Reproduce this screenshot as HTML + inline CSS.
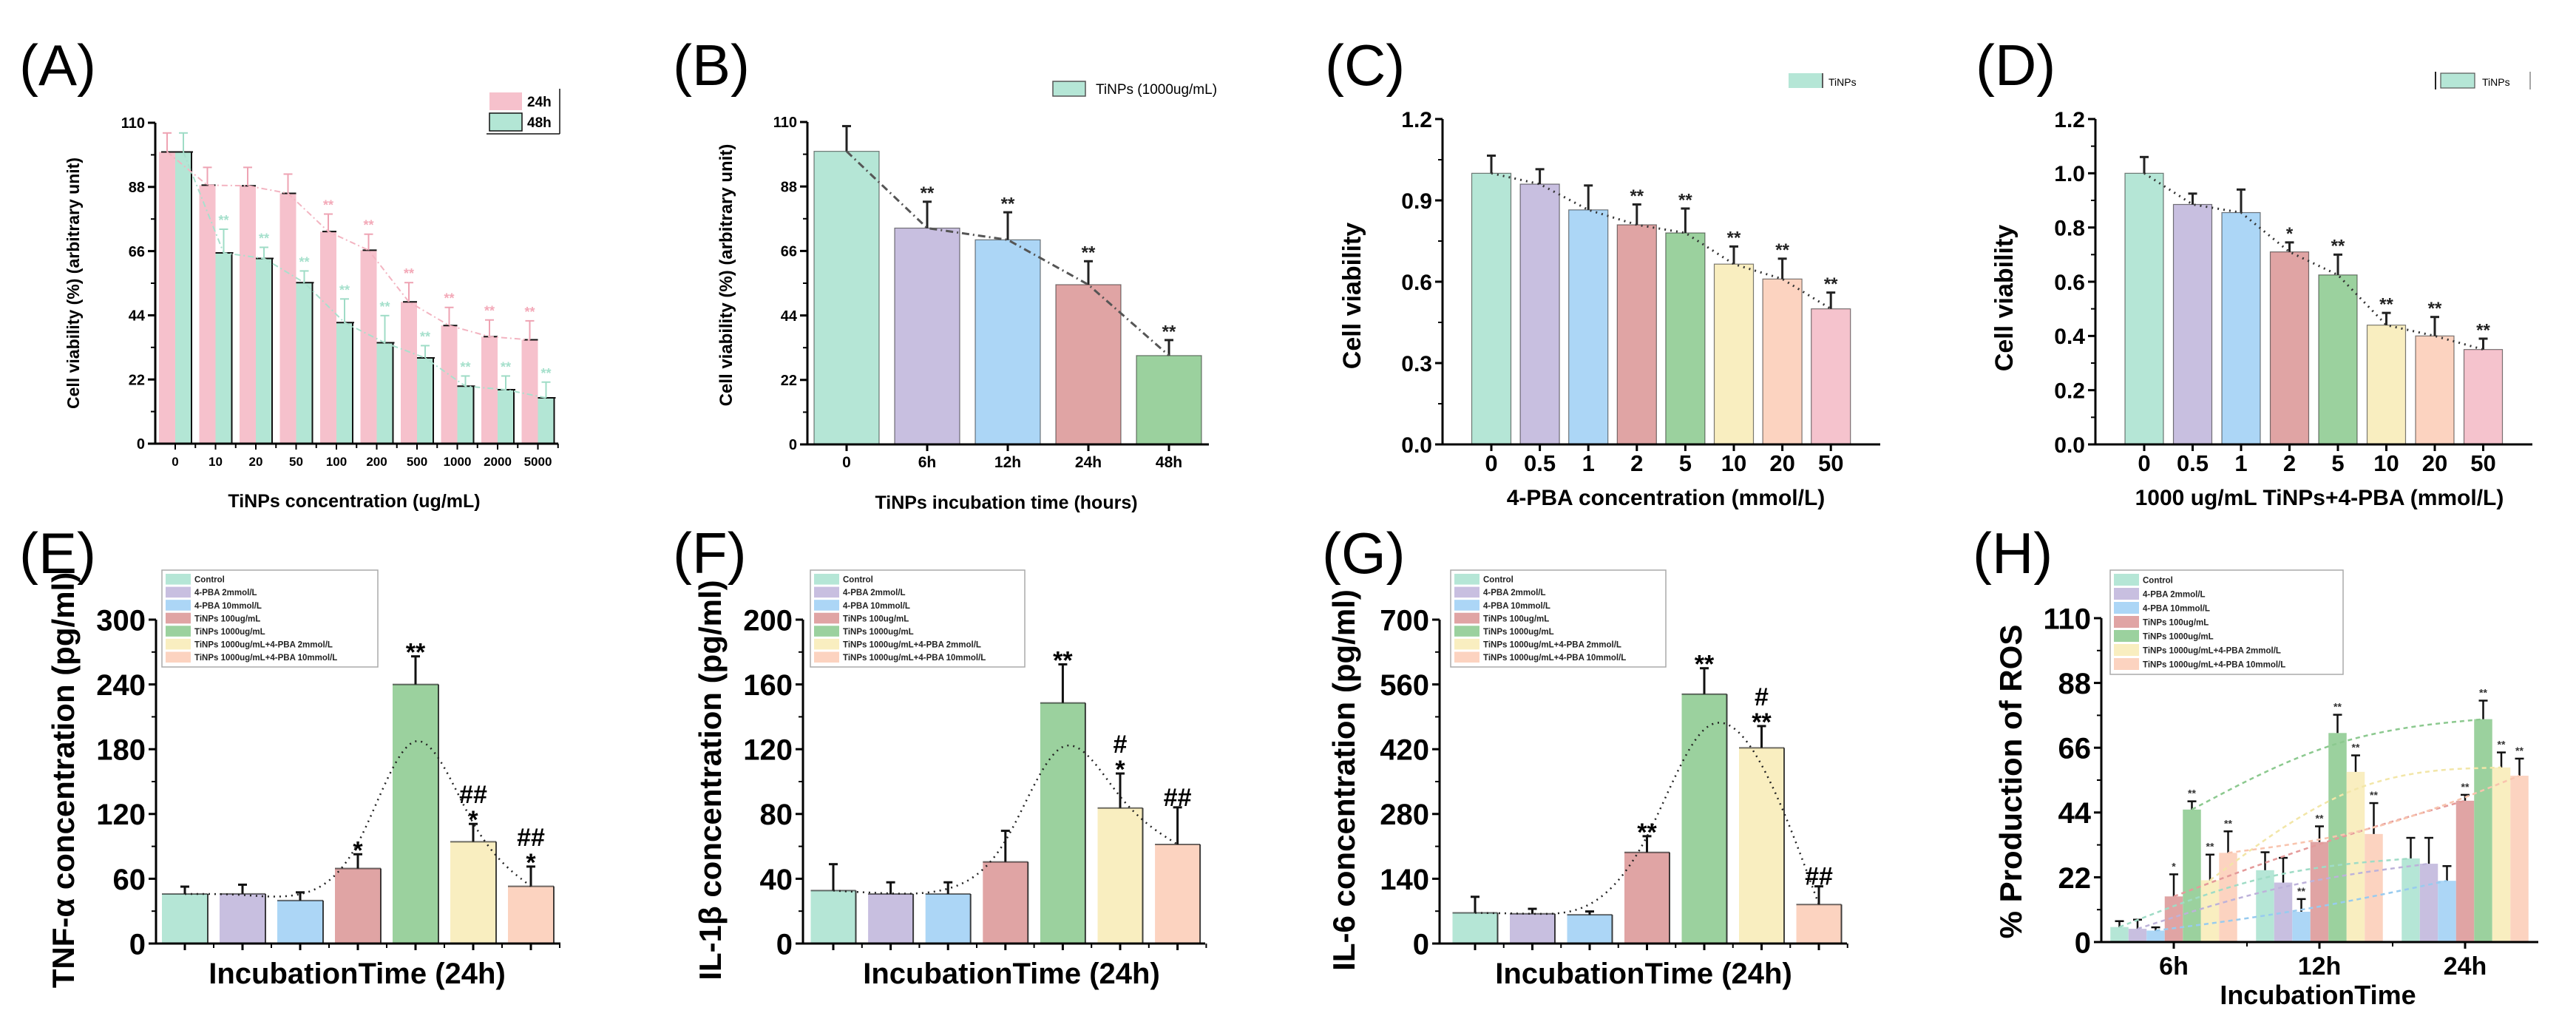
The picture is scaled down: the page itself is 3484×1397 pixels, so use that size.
<!DOCTYPE html>
<html><head><meta charset="utf-8"><style>
html,body{margin:0;padding:0;background:#fff;}
svg{display:block;font-family:"Liberation Sans",Arial,sans-serif;}
</style></head><body>
<svg id="fig" xmlns="http://www.w3.org/2000/svg" width="3484" height="1397" viewBox="0 0 3484 1397">
<rect width="3484" height="1397" fill="#fff"/>
</svg>
<script>
// ---------- DATA ----------
// Panel A
const aCategories = ['0','10','20','50','100','200','500','1000','2000','5000'];
const a24Values = [100,88.6,88.4,85.8,72.7,66.3,48.6,40.5,36.7,35.6];
const a24Errors = [106.5,94.7,94.7,92.4,78.7,71.8,55.2,46.7,42.4,42.1];
const a48Values = [100,65.4,63.5,55.2,41.5,34.6,29.4,19.7,18.5,15.7];
const a48Errors = [106.5,73.5,67.3,59.2,49.6,43.9,33.6,23.2,23.2,21.1];
const a24Stars = ['','','','','**','**','**','**','**','**'];
const a48Stars = ['','**','**','**','**','**','**','**','**','**'];
const aTicks = [0,22,44,66,88,110];
// Panel B
const bCategories = ['0','6h','12h','24h','48h'];
const bValues = [100,73.8,69.8,54.5,30.3];
const bErrors = [108.6,82.8,79.2,62.5,35.6];
const bStars = ['','**','**','**','**'];
const bTicks = [0,22,44,66,88,110];
// Panel C
const cCategories = ['0','0.5','1','2','5','10','20','50'];
const cValues = [1.0,0.96,0.865,0.81,0.78,0.665,0.61,0.50];
const cErrors = [1.065,1.015,0.955,0.885,0.87,0.73,0.685,0.56];
const cStars = ['','','','**','**','**','**','**'];
const cTicks = [0,0.3,0.6,0.9,1.2];
// Panel D
const dCategories = ['0','0.5','1','2','5','10','20','50'];
const dValues = [1.0,0.885,0.855,0.71,0.625,0.44,0.40,0.35];
const dErrors = [1.06,0.925,0.94,0.745,0.70,0.485,0.47,0.39];
const dStars = ['','','','*','**','**','**','**'];
const dTicks = [0,0.2,0.4,0.6,0.8,1.0,1.2];
// Groups (E, F, G, H)
const groupNames = ['Control','4-PBA 2mmol/L','4-PBA 10mmol/L','TiNPs 100ug/mL','TiNPs 1000ug/mL','TiNPs 1000ug/mL+4-PBA 2mmol/L','TiNPs 1000ug/mL+4-PBA 10mmol/L'];
// Panel E
const eValues = [45.9,46,39.8,69.5,240,94.3,53];
const eErrors = [52.7,54.5,47.4,82.7,266,110.8,71.3];
const eStars = ['','','','*','**','*','*'];
const eHashes = ['','','','','','##','##'];
const eTicks = [0,60,120,180,240,300];
// Panel F
const fValues = [32.7,30.6,30.6,50.4,148.6,83.7,61.2];
const fErrors = [49,37.8,37.8,69.6,172.4,105,84.1];
const fStars = ['','','','','**','*',''];
const fHashes = ['','','','','','#','##'];
const fTicks = [0,40,80,120,160,200];
// Panel G
const gValues = [66.4,64.3,62.1,197,539,423,84.3];
const gErrors = [101,75,69.3,232,595,470,123.6];
const gStars = ['','','','**','**','**',''];
const gHashes = ['','','','','','#','##'];
const gTicks = [0,140,280,420,560,700];
// Panel H
const hTimes = ['6h','12h','24h'];
const hControl = [5.1,24.4,28.4];
const hPBA2 = [4.5,20.2,26.6];
const hPBA10 = [3.9,10.3,20.8];
const hTi100 = [15.5,34,48];
const hTi1000 = [45,71,75.7];
const hTiPBA2 = [21,57.8,59.3];
const hTiPBA10 = [30.3,36.7,56.5];
const hControlErr = [7.1,30.5,35.4];
const hPBA2Err = [7.6,28.6,35.4];
const hPBA10Err = [5,14.6,25.8];
const hTi100Err = [23,39.3,50];
const hTi1000Err = [47.8,77.2,82];
const hTiPBA2Err = [29.7,63.4,64.4];
const hTiPBA10Err = [37.6,47.2,62.3];
const hTicks = [0,22,44,66,88,110];

// ---------- STYLE ----------
const COLORS = ['#b5e6d6','#c8bfe0','#acd6f6','#e0a4a4','#9bd19e','#f9eec0','#fcd3c0','#f5c3cd'];
const PINK = '#f6c1cc', MINT = '#b3e6d5';
const NS = 'http://www.w3.org/2000/svg';
const svg = document.getElementById('fig');

function el(tag, attrs, parent){
  const e = document.createElementNS(NS, tag);
  for (const k in attrs) e.setAttribute(k, attrs[k]);
  (parent || svg).appendChild(e);
  return e;
}
function txt(str, attrs, parent){
  const t = el('text', attrs, parent);
  t.textContent = str;
  return t;
}
function yScale(ax){ return v => ax.y0 - (v - ax.min) / (ax.max - ax.min) * (ax.y0 - ax.y1); }

function basisPath(pts){
  let d = '', x0, y0, x1, y1, c = 0;
  function bez(x, y){
    d += 'C' + ((2*x0+x1)/3) + ',' + ((2*y0+y1)/3) + ' ' + ((x0+2*x1)/3) + ',' + ((y0+2*y1)/3) + ' ' + ((x0+4*x1+x)/6) + ',' + ((y0+4*y1+y)/6);
  }
  pts.forEach(p => {
    const x = p[0], y = p[1];
    if (c === 0){ d += 'M' + x + ',' + y; c = 1; }
    else if (c === 1){ c = 2; }
    else { if (c === 2){ c = 3; d += 'L' + ((5*x0+x1)/6) + ',' + ((5*y0+y1)/6); } bez(x, y); }
    x0 = x1; x1 = x; y0 = y1; y1 = y;
  });
  if (c === 3){ bez(x1, y1); d += 'L' + x1 + ',' + y1; }
  else if (c === 2){ d += 'L' + x1 + ',' + y1; }
  return d;
}

function drawAxes(ax, g, ticks, fmt, fs){
  const y = yScale(ax);
  const axis = el('g', {}, g);
  
  
  el('line', {x1:ax.x0, y1:ax.y0, x2:ax.x0, y2:ax.y1, stroke:'#000', 'stroke-width':3}, axis);
  for (let i = 0; i < ticks.length; i++){
    const ty = y(ticks[i]);
    el('line', {x1:ax.x0-10, y1:ty, x2:ax.x0, y2:ty, stroke:'#000', 'stroke-width':3}, axis);
    const lab = txt(fmt(ticks[i]), {x:ax.x0-14, y:ty + fs*0.36, 'font-size':fs, 'font-weight':'bold', 'text-anchor':'end'}, axis);
    
    
    if (i < ticks.length - 1){
      const my = y((ticks[i] + ticks[i+1]) / 2);
      el('line', {x1:ax.x0-6, y1:my, x2:ax.x0, y2:my, stroke:'#000', 'stroke-width':2}, axis);
    }
  }
  const xa = el('line', {x1:ax.x0, y1:ax.y0, x2:ax.xr, y2:ax.y0, stroke:'#000', 'stroke-width':3}, g);
  
  
}

function panelLabel(s, x, y){
  const t = txt(s, {x:x, y:y, 'font-size':78, 'font-family':'"Liberation Sans",Arial,sans-serif'});
  
  
}
function yTitle(s, x, cy, fs, g){
  const t = txt(s, {x:0, y:0, 'font-size':fs, 'font-weight':'bold', 'text-anchor':'middle', transform:'translate(' + x + ',' + cy + ') rotate(-90)'}, g);
  
  
}
function xTitle(s, cx, y, fs, g){
  const t = txt(s, {x:cx, y:y, 'font-size':fs, 'font-weight':'bold', 'text-anchor':'middle'}, g);
  
  
}
function errBar(g, x, yv, ye, color, w){
  const eb = el('g', {}, g);
  
  
  el('line', {x1:x, y1:yv, x2:x, y2:ye, stroke:color, 'stroke-width':w || 3}, eb);
  el('line', {x1:x-6, y1:ye, x2:x+6, y2:ye, stroke:color, 'stroke-width':w || 3}, eb);
}

// ---------- Single-series bar panel (B, C, D) ----------
function simplePanel(cfg, cats, vals, errs, stars, ticks){
  const g = el('g', {});
  
  
  const ax = cfg.ax, y = yScale(ax);
  const pts = [];
  for (let i = 0; i < vals.length; i++){
    const cx = cfg.cx0 + i * cfg.step;
    const b = el('rect', {x:cx - cfg.bw/2, y:y(vals[i]), width:cfg.bw, height:ax.y0 - y(vals[i]), fill:cfg.colors[i % cfg.colors.length], stroke:'#111', 'stroke-width':1.2, 'stroke-opacity':0.55}, g);
    
    
    errBar(g, cx, y(vals[i]), y(errs[i]), '#222', 3);
    pts.push([cx, y(vals[i])]);
    if (stars[i]){
      const s = txt(stars[i], {x:cx, y:y(errs[i]) - 12 + cfg.sfs*0.35, 'font-size':cfg.sfs, 'font-weight':'bold', 'text-anchor':'middle', fill:'#222'}, g);
      
      
    }
    el('line', {x1:cx, y1:ax.y0, x2:cx, y2:ax.y0+9, stroke:'#000', 'stroke-width':3}, g);
    const t = txt(cats[i], {x:cx, y:cfg.labY, 'font-size':cfg.lfs, 'font-weight':'bold', 'text-anchor':'middle'}, g);
    
    
  }
  const tl = el('polyline', {points:pts.map(p => p.join(',')).join(' '), fill:'none', stroke:cfg.lineColor, 'stroke-width':3, 'stroke-dasharray':cfg.dash}, g);
  
  
  drawAxes(ax, g, ticks, cfg.fmt, cfg.tfs);
  return g;
}

// ---------- Panel A ----------
(function(){
  const g = el('g', {});
  
  
  const ax = {x0:210, xr:755, y0:600, y1:166, min:0, max:110};
  const y = yScale(ax);
  const cx0 = 237, step = 54.5, bw = 22;
  const p24 = [], p48 = [];
  for (let i = 0; i < aCategories.length; i++){
    const cx = cx0 + i * step;
    const b1 = el('rect', {x:cx - bw, y:y(a24Values[i]), width:bw, height:ax.y0 - y(a24Values[i]), fill:PINK}, g);
    
    
    const b2 = el('rect', {x:cx, y:y(a48Values[i]), width:bw, height:ax.y0 - y(a48Values[i]), fill:MINT}, g);
    
    
    el('line', {x1:cx+bw, y1:y(a48Values[i]), x2:cx+bw, y2:ax.y0, stroke:'#111', 'stroke-width':2}, g);
    el('line', {x1:cx-bw/2-8, y1:y(a24Values[i]), x2:cx, y2:y(a24Values[i]), stroke:'#111', 'stroke-width':2}, g);
    el('line', {x1:cx, y1:y(a48Values[i]), x2:cx+bw+2, y2:y(a48Values[i]), stroke:'#111', 'stroke-width':2}, g);
    errBar(g, cx - bw/2, y(a24Values[i]), y(a24Errors[i]), '#eea3b3', 2);
    errBar(g, cx + bw/2, y(a48Values[i]), y(a48Errors[i]), '#9fdcc6', 2);
    p24.push([cx - bw/2, y(a24Values[i])]);
    p48.push([cx + bw/2, y(a48Values[i])]);
    if (a24Stars[i]){
      const s = txt(a24Stars[i], {x:cx - bw/2, y:y(a24Errors[i]) - 6, 'font-size':18, 'font-weight':'bold', 'text-anchor':'middle', fill:'#f3a9b8'}, g);
      
      
    }
    if (a48Stars[i]){
      const s = txt(a48Stars[i], {x:cx + bw/2, y:y(a48Errors[i]) - 6, 'font-size':18, 'font-weight':'bold', 'text-anchor':'middle', fill:'#a6e0cc'}, g);
      
      
    }
    el('line', {x1:cx, y1:ax.y0, x2:cx, y2:ax.y0+8, stroke:'#000', 'stroke-width':2}, g);
    el('line', {x1:cx+step/2, y1:ax.y0, x2:cx+step/2, y2:ax.y0+6, stroke:'#000', 'stroke-width':2}, g);
    const t = txt(aCategories[i], {x:cx, y:630, 'font-size':17, 'font-weight':'bold', 'text-anchor':'middle'}, g);
    
    
  }
  const l1 = el('polyline', {points:p24.map(p => p.join(',')).join(' '), fill:'none', stroke:'#f3b4c1', 'stroke-width':2, 'stroke-dasharray':'8 4 2 4'}, g);
  
  
  const l2 = el('polyline', {points:p48.map(p => p.join(',')).join(' '), fill:'none', stroke:'#a9e0cd', 'stroke-width':2, 'stroke-dasharray':'8 4 2 4'}, g);
  
  
  drawAxes(ax, g, aTicks, v => String(v), 20);
  yTitle('Cell viability (%) (arbitrary unit)', 107, 383, 23, g);
  xTitle('TiNPs concentration (ug/mL)', 479, 686, 25, g);
  const lg = el('g', {}, g);
  
  
  el('rect', {x:662, y:125, width:44, height:24, fill:PINK}, lg);
  el('rect', {x:662, y:153, width:44, height:24, fill:MINT, stroke:'#111', 'stroke-width':1.5}, lg);
  el('line', {x1:658, y1:181, x2:757, y2:181, stroke:'#111', 'stroke-width':1.5}, lg);
  el('line', {x1:757, y1:120, x2:757, y2:181, stroke:'#111', 'stroke-width':1.5}, lg);
  txt('24h', {x:713, y:144, 'font-size':19, 'font-weight':'bold'}, lg);
  txt('48h', {x:713, y:172, 'font-size':19, 'font-weight':'bold'}, lg);
  panelLabel('(A)', 26, 115);
})();

// ---------- Panel B ----------
(function(){
  const g = simplePanel({name:'panel-b', ax:{x0:1092, xr:1635, y0:601, y1:165, min:0, max:110}, cx0:1145, step:109, bw:88,
    colors:[COLORS[0],COLORS[1],COLORS[2],COLORS[3],COLORS[4]], lineColor:'#555', dash:'10 5 2 5', sfs:24, lfs:21, labY:632, tfs:20, fmt:v => String(v)},
    bCategories, bValues, bErrors, bStars, bTicks);
  yTitle('Cell viability (%) (arbitrary unit)', 990, 372, 24, g);
  xTitle('TiNPs incubation time (hours)', 1361, 688, 25, g);
  const lg = el('g', {}, g);
  
  
  el('rect', {x:1424, y:110, width:44, height:20, fill:COLORS[0], stroke:'#555', 'stroke-width':1.5}, lg);
  txt('TiNPs (1000ug/mL)', {x:1482, y:127, 'font-size':19}, lg);
  panelLabel('(B)', 910, 115);
})();

// ---------- Panel C ----------
(function(){
  const g = simplePanel({name:'panel-c', ax:{x0:1951, xr:2543, y0:601, y1:161, min:0, max:1.2}, cx0:2017, step:65.6, bw:53,
    colors:COLORS, lineColor:'#333', dash:'2 6', sfs:24, lfs:31, labY:637, tfs:30, fmt:v => v.toFixed(1)},
    cCategories, cValues, cErrors, cStars, cTicks);
  yTitle('Cell viability', 1840, 400, 34, g);
  xTitle('4-PBA concentration (mmol/L)', 2253, 683, 30, g);
  const lg = el('g', {}, g);
  
  
  el('rect', {x:2419, y:99, width:45, height:20, fill:COLORS[0]}, lg);
  el('line', {x1:2465, y1:99, x2:2465, y2:119, stroke:'#222', 'stroke-width':1.5}, lg);
  txt('TiNPs', {x:2473, y:116, 'font-size':14}, lg);
  panelLabel('(C)', 1792, 115);
})();

// ---------- Panel D ----------
(function(){
  const g = simplePanel({name:'panel-d', ax:{x0:2834, xr:3425, y0:601, y1:161, min:0, max:1.2}, cx0:2900, step:65.5, bw:52,
    colors:COLORS, lineColor:'#333', dash:'2 6', sfs:24, lfs:31, labY:637, tfs:30, fmt:v => v.toFixed(1)},
    dCategories, dValues, dErrors, dStars, dTicks);
  yTitle('Cell viability', 2722, 403, 34, g);
  xTitle('1000 ug/mL TiNPs+4-PBA (mmol/L)', 3137, 683, 30, g);
  const lg = el('g', {}, g);
  
  
  el('line', {x1:3294, y1:97, x2:3294, y2:121, stroke:'#222', 'stroke-width':2}, lg);
  el('rect', {x:3301, y:99, width:46, height:20, fill:COLORS[0], stroke:'#555', 'stroke-width':1.2}, lg);
  txt('TiNPs', {x:3357, y:116, 'font-size':14}, lg);
  el('line', {x1:3422, y1:97, x2:3422, y2:121, stroke:'#888', 'stroke-width':1.5}, lg);
  panelLabel('(D)', 2672, 115);
})();

// ---------- Panels E, F, G ----------
function groupLegend(g, x, y, w, h){
  const lg = el('g', {}, g);
  
  
  el('rect', {x:x, y:y, width:w, height:h, fill:'#fff', stroke:'#aaa', 'stroke-width':1.5}, lg);
  const rowH = (h - 8) / groupNames.length;
  for (let i = 0; i < groupNames.length; i++){
    const ry = y + 4 + i * rowH;
    el('rect', {x:x+5, y:ry+1, width:34, height:rowH-3, fill:COLORS[i]}, lg);
    const t = txt(groupNames[i], {x:x+44, y:ry + rowH*0.72, 'font-size':11.5, 'font-weight':'bold', fill:'#222'}, lg);
    
    
  }
}
function groupPanel(cfg, vals, errs, stars, hashes, ticks){
  const g = el('g', {});
  
  
  const ax = cfg.ax, y = yScale(ax);
  const pts = [];
  for (let i = 0; i < vals.length; i++){
    const cx = cfg.cx0 + i * cfg.step;
    const b = el('rect', {x:cx - cfg.bw/2, y:y(vals[i]), width:cfg.bw, height:ax.y0 - y(vals[i]), fill:COLORS[i]}, g);
    
    
    el('line', {x1:cx + cfg.bw/2, y1:y(vals[i]), x2:cx + cfg.bw/2, y2:ax.y0, stroke:'#111', 'stroke-width':2, 'stroke-opacity':0.8}, g);
    el('line', {x1:cx - cfg.bw/2, y1:y(vals[i]), x2:cx + cfg.bw/2, y2:y(vals[i]), stroke:'#111', 'stroke-width':2, 'stroke-opacity':0.6}, g);
    errBar(g, cx, y(vals[i]), y(errs[i]), '#111', 3);
    pts.push([cx, y(vals[i])]);
    let top = y(errs[i]) - 8;
    if (stars[i]){
      const s = txt(stars[i], {x:cx, y:top + 14, 'font-size':34, 'font-weight':'bold', 'text-anchor':'middle'}, g);
      
      
      top -= 26;
    }
    if (hashes[i]){
      const s = txt(hashes[i], {x:cx, y:top + 6, 'font-size':34, 'font-weight':'bold', 'text-anchor':'middle'}, g);
      
      
    }
    el('line', {x1:cx, y1:ax.y0, x2:cx, y2:ax.y0+9, stroke:'#000', 'stroke-width':3}, g);
    el('line', {x1:cx + cfg.step/2, y1:ax.y0, x2:cx + cfg.step/2, y2:ax.y0+6, stroke:'#000', 'stroke-width':2}, g);
  }
  const c = el('path', {d:basisPath(pts), fill:'none', stroke:'#222', 'stroke-width':2.5, 'stroke-dasharray':'2 6'}, g);
  
  
  drawAxes(ax, g, ticks, v => String(v), 40);
  groupLegend(g, cfg.lg[0], cfg.lg[1], cfg.lg[2], cfg.lg[3]);
  yTitle(cfg.ytitle, cfg.ytx, 1055, 42, g);
  xTitle('IncubationTime (24h)', cfg.xtc, 1330, 40, g);
  return g;
}
groupPanel({name:'panel-e', ax:{x0:211, xr:758, y0:1276, y1:838, min:0, max:300}, cx0:250, step:78, bw:62, lg:[219,771,292,131],
  ytitle:'TNF-α concentration (pg/ml)', ytx:100, xtc:483}, eValues, eErrors, eStars, eHashes, eTicks);
panelLabel('(E)', 26, 775);
groupPanel({name:'panel-f', ax:{x0:1086, xr:1630, y0:1276, y1:838, min:0, max:200}, cx0:1127, step:77.6, bw:61, lg:[1096,771,290,131],
  ytitle:'IL-1β concentration (pg/ml)', ytx:975, xtc:1368}, fValues, fErrors, fStars, fHashes, fTicks);
panelLabel('(F)', 910, 775);
groupPanel({name:'panel-g', ax:{x0:1947, xr:2498, y0:1276, y1:838, min:0, max:700}, cx0:1995, step:77.5, bw:61, lg:[1962,771,291,131],
  ytitle:'IL-6 concentration (pg/ml)', ytx:1832, xtc:2223}, gValues, gErrors, gStars, gHashes, gTicks);
panelLabel('(G)', 1788, 775);

// ---------- Panel H ----------
(function(){
  const g = el('g', {});
  
  
  const ax = {x0:2842, xr:3433, y0:1274, y1:836, min:0, max:110};
  const y = yScale(ax);
  const series = [hControl,hPBA2,hPBA10,hTi100,hTi1000,hTiPBA2,hTiPBA10];
  const errs = [hControlErr,hPBA2Err,hPBA10Err,hTi100Err,hTi1000Err,hTiPBA2Err,hTiPBA10Err];
  const lineCols = ['#9fdcc6','#bdb2da','#98cbef','#e49a9a','#8cc98f','#f2e6a8','#f8c4ae'];
  const gc = [2940, 3137, 3334], bw = 24.5;
  const curves = series.map(() => []);
  for (let gi = 0; gi < hTimes.length; gi++){
    for (let s = 0; s < series.length; s++){
      const cx = gc[gi] + (s - 3) * bw;
      const v = series[s][gi];
      const b = el('rect', {x:cx - bw/2, y:y(v), width:bw, height:ax.y0 - y(v), fill:COLORS[s]}, g);
      
      
      errBar(g, cx, y(v), y(errs[s][gi]), '#111', 2.5);
      curves[s].push([cx, y(v)]);
      if (s >= 3 || (gi === 1 && s === 2)){
        const m = txt(s === 3 && gi === 0 ? '*' : '**', {x:cx, y:y(errs[s][gi]) - 6, 'font-size':14, 'font-weight':'bold', 'text-anchor':'middle', fill:'#333'}, g);
        
        
      }
    }
    el('line', {x1:gc[gi], y1:ax.y0, x2:gc[gi], y2:ax.y0+9, stroke:'#000', 'stroke-width':3}, g);
    const t = txt(hTimes[gi], {x:gc[gi], y:1318, 'font-size':34, 'font-weight':'bold', 'text-anchor':'middle'}, g);
    
    
  }
  el('line', {x1:3039, y1:ax.y0, x2:3039, y2:ax.y0+6, stroke:'#000', 'stroke-width':2}, g);
  el('line', {x1:3236, y1:ax.y0, x2:3236, y2:ax.y0+6, stroke:'#000', 'stroke-width':2}, g);
  for (let s = 0; s < series.length; s++){
    const c = el('path', {d:basisPath(curves[s]), fill:'none', stroke:lineCols[s], 'stroke-width':2.5, 'stroke-dasharray':'6 5'}, g);
    
    
  }
  drawAxes(ax, g, hTicks, v => String(v), 40);
  groupLegend(g, 2854, 771, 315, 141);
  yTitle('% Production of ROS', 2734, 1057, 42, g);
  xTitle('IncubationTime', 3135, 1358, 36, g);
  panelLabel('(H)', 2668, 775);
})();
</script>
</body></html>
